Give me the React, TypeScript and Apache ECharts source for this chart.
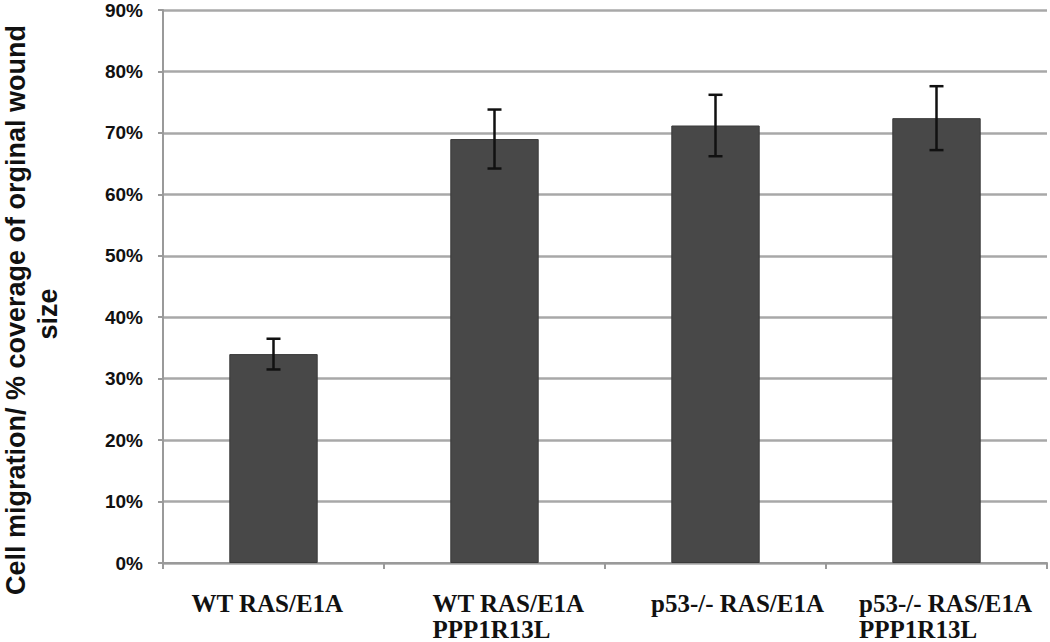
import React, { useEffect, useRef } from "react";
import * as echarts from "echarts";

const categories = [
  "WT RAS/E1A",
  "WT RAS/E1A\nPPP1R13L",
  "p53-/- RAS/E1A",
  "p53-/- RAS/E1A\nPPP1R13L",
];
const values = [34.0, 69.0, 71.2, 72.4];
const errors = [2.5, 4.8, 5.0, 5.2];
const yTicks = [0, 10, 20, 30, 40, 50, 60, 70, 80, 90];

export default function App() {
  const ref = useRef<HTMLDivElement>(null);
  useEffect(() => {
    if (!ref.current) return;
    const chart = echarts.init(ref.current, null, { renderer: "svg" });
    const errData = values.map((v, i) => [i, v - errors[i], v + errors[i]]);
    const shifts = [-6, 14, 22, 9];
    const base = {
      fontFamily: "Liberation Serif",
      fontWeight: "bold",
      fontSize: 25,
      color: "#111",
      lineHeight: 26,
      align: "left",
    };
    const rich: any = {};
    shifts.forEach((d, i) => {
      rich["c" + i] = {
        ...base,
        padding: d >= 0 ? [0, 0, 0, 2 * d] : [0, -2 * d, 0, 0],
      };
    });
    chart.setOption({
      animation: false,
      backgroundColor: "#ffffff",
      grid: { left: 163, right: 3, top: 10, bottom: 79 },
      xAxis: {
        type: "category",
        data: categories,
        axisLine: { show: true, lineStyle: { color: "#9a9a9a", width: 2 } },
        axisTick: { show: true, length: 6, lineStyle: { color: "#9a9a9a", width: 2 } },
        axisLabel: {
          interval: 0,
          hideOverlap: false,
          margin: 27,
          fontFamily: "Liberation Serif",
          fontWeight: "bold",
          fontSize: 25,
          color: "#111",
          lineHeight: 26,
          align: "center",
          formatter: (v: string, i: number) =>
            v
              .split("\n")
              .map((line) => "{c" + i + "|" + line + "}")
              .join("\n"),
          rich,
        },
      },
      yAxis: {
        type: "value",
        min: yTicks[0],
        max: yTicks[yTicks.length - 1],
        interval: 10,
        axisLine: { show: true, lineStyle: { color: "#9a9a9a", width: 2 } },
        axisTick: { show: true, length: 5, lineStyle: { color: "#9a9a9a", width: 2 } },
        splitLine: { show: true, lineStyle: { color: "#a8a8a8", width: 2.5 } },
        axisLabel: {
          margin: 20,
          fontFamily: "Liberation Sans",
          fontWeight: "bold",
          fontSize: 19,
          color: "#111",
          formatter: (v: number) => v + "%",
        },
      },
      graphic: [
        {
          type: "text",
          x: 16,
          y: 310,
          rotation: Math.PI / 2,
          style: {
            text: "Cell migration/ % coverage of orginal wound",
            fontFamily: "Liberation Sans",
            fontWeight: "bold",
            fontSize: 27,
            fill: "#111",
            align: "center",
            verticalAlign: "middle",
          },
        },
        {
          type: "text",
          x: 48,
          y: 314,
          rotation: Math.PI / 2,
          style: {
            text: "size",
            fontFamily: "Liberation Sans",
            fontWeight: "bold",
            fontSize: 27,
            fill: "#111",
            align: "center",
            verticalAlign: "middle",
          },
        },
      ],
      series: [
        {
          type: "bar",
          data: values,
          barWidth: "40%",
          itemStyle: { color: "#484848", borderColor: "#3a3a3a", borderWidth: 1 },
          z: 2,
        },
        {
          type: "custom",
          data: errData,
          z: 5,
          renderItem: (params: any, api: any) => {
            const x = api.value(0);
            const lo = api.coord([x, api.value(1)]);
            const hi = api.coord([x, api.value(2)]);
            const cap = 7;
            const style = { stroke: "#111", lineWidth: 2.5 };
            return {
              type: "group",
              children: [
                { type: "line", shape: { x1: lo[0], y1: lo[1], x2: hi[0], y2: hi[1] }, style },
                { type: "line", shape: { x1: hi[0] - cap, y1: hi[1], x2: hi[0] + cap, y2: hi[1] }, style },
                { type: "line", shape: { x1: lo[0] - cap, y1: lo[1], x2: lo[0] + cap, y2: lo[1] }, style },
              ],
            };
          },
        },
      ],
    });
    return () => chart.dispose();
  }, []);
  return <div ref={ref} style={{ width: 1050, height: 642, position: "absolute", left: 0, top: 0 }} />;
}
